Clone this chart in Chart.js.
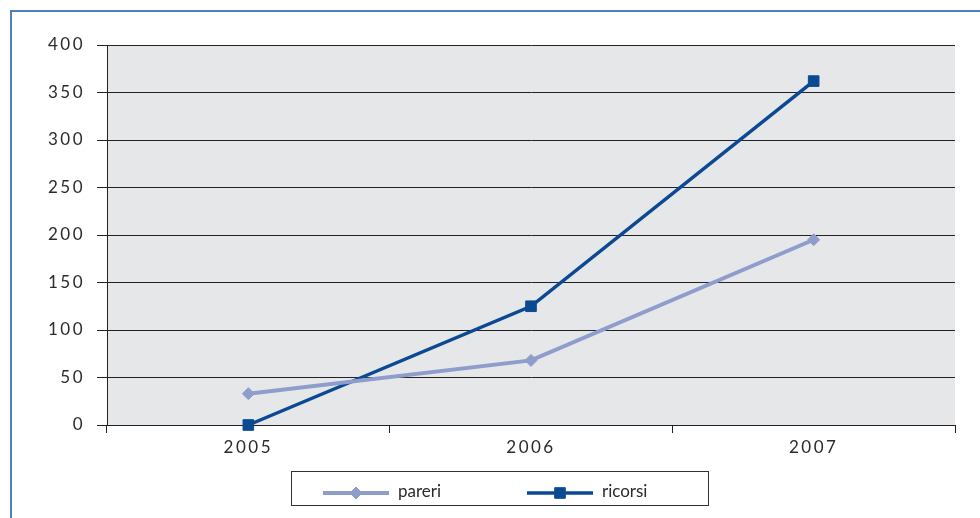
<!DOCTYPE html>
<html>
<head>
<meta charset="utf-8">
<script src="https://cdn.jsdelivr.net/npm/chart.js@4/dist/chart.umd.min.js"></script>
<style>
  html, body { margin: 0; padding: 0; background: #fff; }
  #wrap { position: relative; width: 980px; height: 518px; overflow: hidden; }
  #frame { position: absolute; left: 10px; top: 10px; width: 1000px; height: 600px;
           border-left: 2px solid #4f7fbe; border-top: 2px solid #4f7fbe; }
  canvas { position: absolute; left: 0; top: 0; }
</style>
</head>
<body>
<div id="wrap">
  <div id="frame"></div>
  <canvas id="myChart" width="980" height="518"></canvas>
</div>
<script>
const years = ['2005', '2006', '2007'];
const pareri = [33, 68, 195];
const ricorsi = [0, 125, 362];
const yTicks = [0, 50, 100, 150, 200, 250, 300, 350, 400];

const textColor = '#2a2a2a';
const fontFamily = 'Lato, "Open Sans", sans-serif';

// gray plot background + letter spacing for the labels
const plotBg = {
  id: 'plotBg',
  beforeDraw(chart) {
    const a = chart.chartArea;
    const ctx = chart.ctx;
    ctx.letterSpacing = '2.5px';
    ctx.save();
    ctx.fillStyle = '#e6e7e9';
    ctx.fillRect(a.left, a.top, a.right - a.left, a.bottom - a.top);
    ctx.restore();
  }
};

// boxed legend under the chart, line sample with marker in the middle
const boxLegend = {
  id: 'boxLegend',
  afterDraw(chart) {
    const ctx = chart.ctx;
    ctx.save();
    ctx.letterSpacing = '0px';
    ctx.strokeStyle = '#333';
    ctx.lineWidth = 1;
    ctx.strokeRect(291.5, 471.5, 417, 34);
    const starts = [323, 527];
    chart.data.datasets.forEach((ds, i) => {
      const x0 = starts[i], x1 = x0 + 66, y = 493;
      ctx.strokeStyle = ds.borderColor;
      ctx.fillStyle = ds.borderColor;
      ctx.lineWidth = ds.borderWidth;
      ctx.beginPath();
      ctx.moveTo(x0, y);
      ctx.lineTo(x1, y);
      ctx.stroke();
      ctx.lineWidth = 1;
      Chart.helpers.drawPoint(ctx, {
        pointStyle: ds.pointStyle, radius: ds.pointRadius, rotation: 0, borderWidth: 1
      }, (x0 + x1) / 2, y);
      ctx.fillStyle = textColor;
      ctx.font = '17px ' + fontFamily;
      ctx.textBaseline = 'middle';
      ctx.fillText(ds.label, x1 + 9, y - 1);
    });
    ctx.restore();
  }
};

const ctx = document.getElementById('myChart').getContext('2d');
const myChart = new Chart(ctx, {
  type: 'line',
  data: {
    labels: years,
    datasets: [{
      label: 'pareri',
      data: pareri,
      borderColor: '#8e9dcc',
      backgroundColor: '#8e9dcc',
      borderWidth: 4,
      pointStyle: 'rectRot',
      pointRadius: 6,
      pointBorderWidth: 1,
      tension: 0,
      clip: false
    }, {
      label: 'ricorsi',
      data: ricorsi,
      borderColor: '#0b4a93',
      backgroundColor: '#0b4a93',
      borderWidth: 3.5,
      pointStyle: 'rect',
      pointRadius: 7.5,
      pointBorderWidth: 1,
      tension: 0,
      clip: false
    }]
  },
  options: {
    responsive: false,
    animation: false,
    layout: { padding: { left: 0, right: 25, top: 45, bottom: 63 } },
    plugins: {
      legend: { display: false },
      tooltip: { enabled: false }
    },
    scales: {
      x: {
        offset: true,
        grid: { drawOnChartArea: false, color: '#222', tickLength: 8, offset: true },
        border: { color: '#222', width: 1 },
        ticks: { color: textColor, font: { family: fontFamily, size: 17 }, padding: 4 },
        afterFit(scale) { scale.height = 30; }
      },
      y: {
        min: 0,
        max: 400,
        afterBuildTicks(scale) { scale.ticks = yTicks.map(v => ({ value: v })); },
        grid: { color: '#222', lineWidth: 1, tickLength: 10 },
        border: { color: '#222', width: 1 },
        ticks: { color: textColor, font: { family: fontFamily, size: 17 }, padding: 12 },
        afterFit(scale) { scale.width = 107; }
      }
    }
  },
  plugins: [plotBg, boxLegend]
});
</script>
</body>
</html>
